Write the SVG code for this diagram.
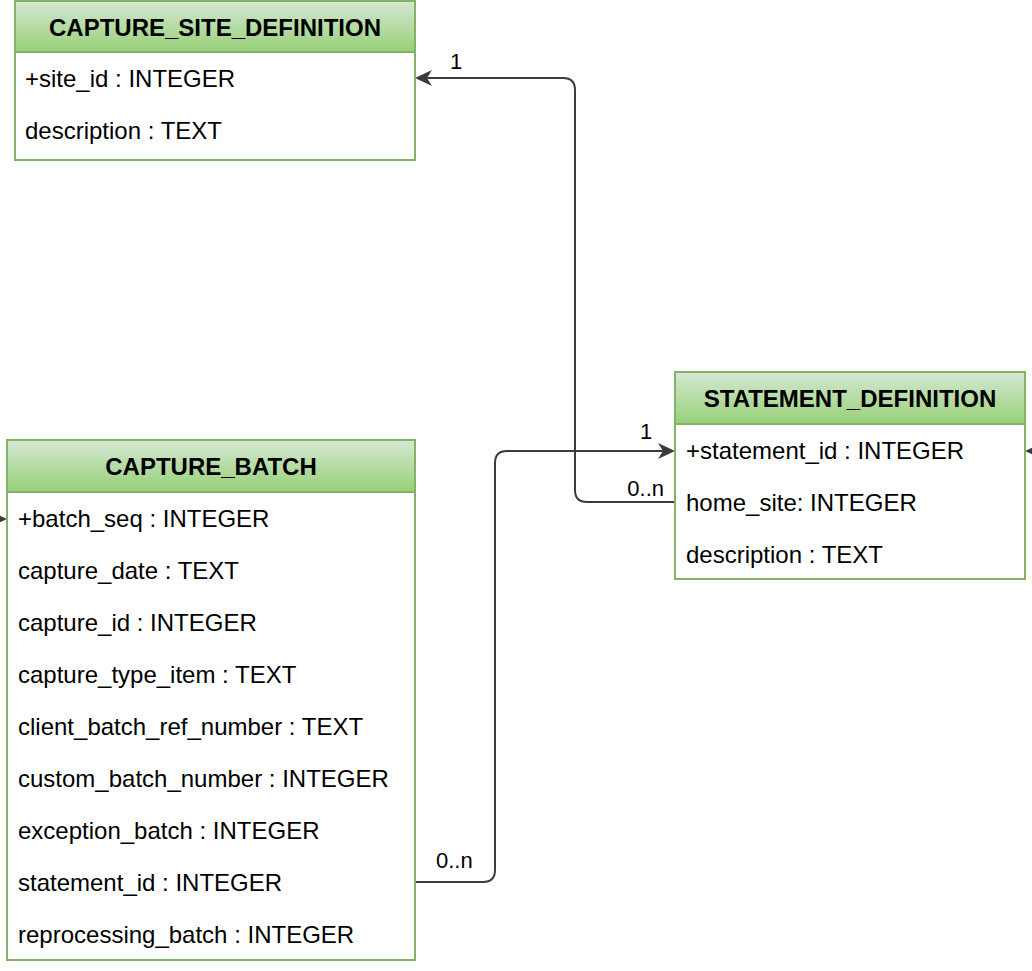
<svg xmlns="http://www.w3.org/2000/svg" width="1032" height="971" viewBox="0 0 1032 971">
<defs>
<linearGradient id="hdr" x1="0" y1="0" x2="0" y2="1">
<stop offset="0" stop-color="#d5e8d4"/>
<stop offset="1" stop-color="#97d077"/>
</linearGradient>
<marker id="arr" markerUnits="userSpaceOnUse" markerWidth="18" markerHeight="18" viewBox="0 0 18 18" refX="5" refY="8" orient="auto">
<path d="M0,0 L17,8 L0,16 L5,8 Z" fill="#3c3c3c"/>
</marker>
<style>
.box{fill:#ffffff;stroke:#82b366;stroke-width:2}
.hd{fill:url(#hdr);stroke:#82b366;stroke-width:2}
.ht{font-family:"Liberation Sans",Arial,sans-serif;font-size:24px;font-weight:bold;fill:#000;text-anchor:middle}
.rt{font-family:"Liberation Sans",Arial,sans-serif;font-size:24px;fill:#000}
.lb{font-family:"Liberation Sans",Arial,sans-serif;font-size:22px;fill:#000}
.edge{fill:none;stroke:#3c3c3c;stroke-width:2;marker-end:url(#arr)}
</style>
</defs>
<rect width="1032" height="971" fill="#ffffff"/>
<g id="connectors">
<path class="edge" d="M675,502 L587,502 Q575,502 575,490 L575,90 Q575,78 563,78 L427,78"/>
<path class="edge" d="M415,882 L483,882 Q495,882 495,870 L495,463 Q495,451 507,451 L663,451"/>
<path class="edge" d="M-20,519 L-5,519"/>
<path class="edge" d="M1050,451 L1037,451"/>
<text class="lb" x="450" y="69">1</text>
<text class="lb" x="664" y="496" text-anchor="end">0..n</text>
<text class="lb" x="436" y="868">0..n</text>
<text class="lb" x="640" y="439">1</text>
</g>
<g id="capture_site_definition">
<rect class="box" x="15" y="1" width="400" height="159"/>
<rect class="hd" x="15" y="1" width="400" height="51"/>
<text class="ht" x="215" y="36">CAPTURE_SITE_DEFINITION</text>
<text class="rt" x="25" y="87">+site_id : INTEGER</text>
<text class="rt" x="25" y="139">description : TEXT</text>
</g>
<g id="statement_definition">
<rect class="box" x="675" y="372" width="350" height="207"/>
<rect class="hd" x="675" y="372" width="350" height="52"/>
<text class="ht" x="850" y="407">STATEMENT_DEFINITION</text>
<text class="rt" x="686" y="459">+statement_id : INTEGER</text>
<text class="rt" x="686" y="511">home_site: INTEGER</text>
<text class="rt" x="686" y="563">description : TEXT</text>
</g>
<g id="capture_batch">
<rect class="box" x="7" y="440" width="408" height="520"/>
<rect class="hd" x="7" y="440" width="408" height="52"/>
<text class="ht" x="211" y="475">CAPTURE_BATCH</text>
<text class="rt" x="18" y="527">+batch_seq : INTEGER</text>
<text class="rt" x="18" y="579">capture_date : TEXT</text>
<text class="rt" x="18" y="631">capture_id : INTEGER</text>
<text class="rt" x="18" y="683">capture_type_item : TEXT</text>
<text class="rt" x="18" y="735">client_batch_ref_number : TEXT</text>
<text class="rt" x="18" y="787">custom_batch_number : INTEGER</text>
<text class="rt" x="18" y="839">exception_batch : INTEGER</text>
<text class="rt" x="18" y="891">statement_id : INTEGER</text>
<text class="rt" x="18" y="943">reprocessing_batch : INTEGER</text>
</g>
</svg>
